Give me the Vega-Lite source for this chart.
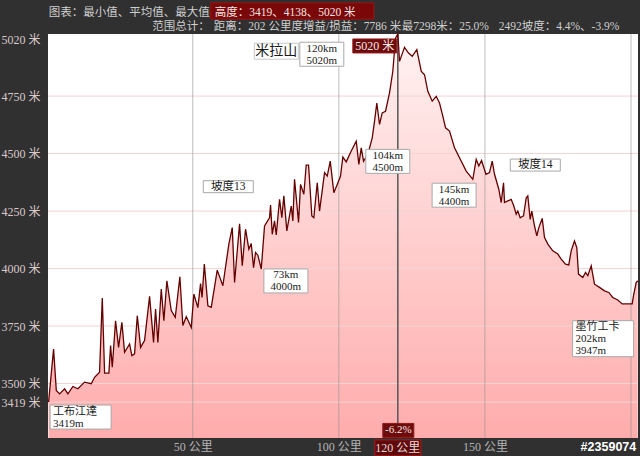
{
  "$schema": "https://vega.github.io/schema/vega-lite/v6.json",
  "autosize": {"type": "none"},
  "padding": {"left": 48, "top": 34, "right": 2, "bottom": 18},
  "width": 590,
  "height": 404,
  "background": "#303030",
  "config": {"view": {"stroke": null, "fill": "white"}},
  "datasets": {
    "profile": [
      {"km":0.65,"m":3419},{"km":2.36,"m":3650},{"km":3.29,"m":3470},{"km":4.41,"m":3455},{"km":6.13,"m":3477},
      {"km":7.26,"m":3455},{"km":8.97,"m":3487},{"km":10.68,"m":3477},{"km":12.97,"m":3506},{"km":15.26,"m":3499},
      {"km":16.39,"m":3527},{"km":18.10,"m":3549},{"km":19.03,"m":3872},{"km":19.82,"m":3545},{"km":21.29,"m":3545},
      {"km":21.87,"m":3665},{"km":22.45,"m":3571},{"km":23.58,"m":3773},{"km":24.61,"m":3657},{"km":25.74,"m":3766},
      {"km":26.66,"m":3636},{"km":28.37,"m":3672},{"km":29.16,"m":3621},{"km":30.08,"m":3629},{"km":31.01,"m":3795},
      {"km":32.14,"m":3657},{"km":33.50,"m":3687},{"km":35.22,"m":3879},{"km":36.58,"m":3679},{"km":37.27,"m":3824},
      {"km":38.06,"m":3679},{"km":39.22,"m":3911},{"km":40.11,"m":3773},{"km":41.14,"m":3947},{"km":42.64,"m":3817},
      {"km":44.01,"m":3788},{"km":45.59,"m":3964},{"km":46.61,"m":3752},{"km":47.78,"m":3791},{"km":49.49,"m":3744},
      {"km":50.38,"m":3889},{"km":51.75,"m":3830},{"km":52.67,"m":3935},{"km":53.18,"m":3874},{"km":53.96,"m":4019},
      {"km":55.17,"m":3838},{"km":56.33,"m":3831},{"km":58.38,"m":3993},{"km":60.30,"m":3925},{"km":62.35,"m":4106},
      {"km":63.52,"m":4178},{"km":64.31,"m":3939},{"km":66.02,"m":4195},{"km":66.94,"m":4012},{"km":68.07,"m":4171},
      {"km":69.20,"m":4084},{"km":70.02,"m":4109},{"km":70.81,"m":4004},{"km":71.49,"m":4070},{"km":72.28,"m":4058},
      {"km":73.44,"m":3998},{"km":74.57,"m":4185},{"km":76.28,"m":4221},{"km":76.63,"m":4276},{"km":77.21,"m":4149},
      {"km":77.99,"m":4207},{"km":78.58,"m":4146},{"km":79.71,"m":4301},{"km":80.49,"m":4221},{"km":81.18,"m":4316},
      {"km":82.20,"m":4164},{"km":83.71,"m":4272},{"km":84.26,"m":4207},{"km":84.84,"m":4388},{"km":86.21,"m":4200},
      {"km":86.89,"m":4366},{"km":88.02,"m":4323},{"km":88.84,"m":4450},{"km":89.63,"m":4450},{"km":90.76,"m":4229},
      {"km":91.44,"m":4221},{"km":92.61,"m":4373},{"km":93.39,"m":4250},{"km":95.11,"m":4417},{"km":96.03,"m":4402},
      {"km":97.06,"m":4467},{"km":98.29,"m":4330},{"km":99.45,"m":4366},{"km":100.58,"m":4402},{"km":101.37,"m":4485},
      {"km":102.53,"m":4464},{"km":104.24,"m":4511},{"km":105.96,"m":4554},{"km":106.85,"m":4453},{"km":107.67,"m":4525},
      {"km":108.45,"m":4467},{"km":109.92,"m":4496},{"km":111.43,"m":4568},{"km":112.22,"m":4641},{"km":113.00,"m":4720},
      {"km":113.93,"m":4627},{"km":114.85,"m":4677},{"km":115.98,"m":4684},{"km":117.35,"m":4764},{"km":118.48,"m":4858},
      {"km":119.40,"m":5002},{"km":120.19,"m":5020},{"km":120.77,"m":4901},{"km":122.48,"m":4962},{"km":123.85,"m":4937},
      {"km":125.12,"m":4923},{"km":126.69,"m":4952},{"km":128.20,"m":4858},{"km":129.33,"m":4843},{"km":130.46,"m":4771},
      {"km":131.96,"m":4728},{"km":133.33,"m":4749},{"km":134.46,"m":4720},{"km":135.59,"m":4663},{"km":136.52,"m":4612},
      {"km":137.89,"m":4598},{"km":139.60,"m":4525},{"km":141.31,"m":4482},{"km":143.60,"m":4424},{"km":145.86,"m":4388},
      {"km":147.02,"m":4475},{"km":147.91,"m":4446},{"km":148.84,"m":4470},{"km":150.38,"m":4410},{"km":151.57,"m":4417},
      {"km":152.50,"m":4467},{"km":153.29,"m":4410},{"km":154.76,"m":4345},{"km":155.58,"m":4287},{"km":156.37,"m":4373},
      {"km":156.71,"m":4287},{"km":157.84,"m":4294},{"km":159.00,"m":4301},{"km":159.89,"m":4272},{"km":160.71,"m":4236},
      {"km":161.26,"m":4250},{"km":162.08,"m":4221},{"km":163.21,"m":4229},{"km":164.14,"m":4308},{"km":164.68,"m":4316},
      {"km":165.50,"m":4214},{"km":166.05,"m":4250},{"km":166.98,"m":4185},{"km":167.76,"m":4142},{"km":168.45,"m":4178},
      {"km":169.61,"m":4218},{"km":170.40,"m":4135},{"km":171.53,"m":4106},{"km":173.24,"m":4077},{"km":174.95,"m":4063},
      {"km":176.11,"m":4041},{"km":177.58,"m":4019},{"km":178.71,"m":4016},{"km":179.53,"m":4077},{"km":180.66,"m":4120},
      {"km":181.45,"m":4091},{"km":182.03,"m":3976},{"km":183.50,"m":3961},{"km":184.43,"m":3983},{"km":185.22,"m":3969},
      {"km":186.38,"m":4012},{"km":187.51,"m":3932},{"km":189.22,"m":3918},{"km":190.93,"m":3903},{"km":192.40,"m":3896},
      {"km":193.77,"m":3874},{"km":195.48,"m":3863},{"km":196.99,"m":3846},{"km":198.36,"m":3846},{"km":200.41,"m":3846},
      {"km":200.86,"m":3882},{"km":201.78,"m":3939},{"km":202.3,"m":3947}
    ],
    "notes": [
      {"kind":"km","text":"120km\n5020m","km":94.17,"m":4932},
      {"kind":"km","text":"104km\n4500m","km":116.76,"m":4466},
      {"kind":"km","text":"73km\n4000m","km":81.88,"m":3946},
      {"kind":"km","text":"145km\n4400m","km":139.46,"m":4319},
      {"kind":"slope","text":"坡度13","km":62.16,"m":4356},
      {"kind":"slope","text":"坡度14","km":167.25,"m":4450},
      {"kind":"pass","text":"米拉山","km":78.6,"m":4945},
      {"kind":"place3","text":"墨竹工卡\n202km\n3947m","km":190.29,"m":3695},
      {"kind":"place2","text":"工布江達\n3419m","km":11.44,"m":3354}
    ],
    "hgrid": [{"v":3419},{"v":3500},{"v":3750},{"v":4000},{"v":4250},{"v":4500},{"v":4750}],
    "vgrid": [{"v":50},{"v":100},{"v":150},{"v":200}],
    "headLabels": [
      {"text":"图表：最小值、平均值、最大值","km":55.83,"m":5112},
      {"text":"范围总计：","km":55.83,"m":5050}
    ],
    "headValues": [
      {"text":"距离：202 公里","km":57.2,"m":5050},
      {"text":"度增益/损益：7786 米","km":83.83,"m":5050},
      {"text":"最7298米：25.0%","km":121.5,"m":5050},
      {"text":"2492坡度：4.4%、-3.9%","km":154.7,"m":5050}
    ]
  },
  "layer": [
    {
      "data": {"name": "profile"},
      "mark": {"type": "area", "fill": {"gradient": "linear", "x1": 0, "y1": 0, "x2": 0, "y2": 1, "stops": [{"offset": 0, "color": "#fff2f2"}, {"offset": 1, "color": "#ffacac"}]}},
      "encoding": {
        "x": {"field": "km", "type": "quantitative", "scale": {"domain": [0.45, 202.4], "nice": false, "zero": false},
          "axis": {"values": [50, 100, 150], "labelExpr": "datum.value + ' 公里'", "grid": false, "ticks": false, "domain": false, "title": null,
            "labelColor": "#b4b4b4", "labelFont": "Liberation Serif, Noto Sans CJK SC", "labelFontSize": 12, "labelPadding": 3, "labelFlush": false}},
        "y": {"field": "m", "type": "quantitative", "scale": {"domain": [3263, 5020], "nice": false, "zero": false},
          "axis": {"values": [3419, 3500, 3750, 4000, 4250, 4500, 4750, 5020], "labelExpr": "datum.value + ' 米'", "grid": false, "ticks": false, "domain": false, "title": null,
            "labelColor": "#d8c8c8", "labelFont": "Liberation Serif, Noto Sans CJK SC", "labelFontSize": 12, "labelPadding": 8, "labelOverlap": false, "labelFlush": false,
            "labelBaseline": {"condition": {"test": "datum.value == 5020", "value": "top"}, "value": "middle"}}},
        "y2": {"datum": 3263}
      }
    },
    {
      "data": {"name": "hgrid"},
      "mark": {"type": "rule", "color": "#f2d4d4", "strokeWidth": 1},
      "encoding": {"y": {"field": "v", "type": "quantitative"}}
    },
    {
      "data": {"name": "vgrid"},
      "mark": {"type": "rule", "color": "#8f8f8f", "opacity": 0.6, "strokeWidth": 1},
      "encoding": {"x": {"field": "v", "type": "quantitative"}}
    },
    {
      "data": {"values": [{}]},
      "mark": {"type": "rule", "color": "#555555", "strokeWidth": 1.5},
      "encoding": {"x": {"datum": 120.19, "type": "quantitative"}}
    },
    {
      "data": {"name": "profile"},
      "mark": {"type": "line", "color": "#640000", "strokeWidth": 1.3},
      "encoding": {"x": {"field": "km", "type": "quantitative"}, "y": {"field": "m", "type": "quantitative"}}
    },
    {
      "data": {"name": "notes"},
      "transform": [{"filter": "datum.kind == 'km'"}],
      "mark": {"type": "rect", "fill": "white", "stroke": "#a8a8a8", "strokeWidth": 1, "xOffset": -22, "x2Offset": 22, "yOffset": -12, "y2Offset": 12},
      "encoding": {"x": {"field": "km", "type": "quantitative"}, "x2": {"field": "km"}, "y": {"field": "m", "type": "quantitative"}, "y2": {"field": "m"}}
    },
    {
      "data": {"name": "notes"},
      "transform": [{"filter": "datum.kind == 'slope'"}],
      "mark": {"type": "rect", "fill": "white", "stroke": "#a8a8a8", "strokeWidth": 1, "xOffset": -25, "x2Offset": 25, "yOffset": -6, "y2Offset": 6},
      "encoding": {"x": {"field": "km", "type": "quantitative"}, "x2": {"field": "km"}, "y": {"field": "m", "type": "quantitative"}, "y2": {"field": "m"}}
    },
    {
      "data": {"name": "notes"},
      "transform": [{"filter": "datum.kind == 'pass'"}],
      "mark": {"type": "rect", "fill": "white", "stroke": "#c8c8c8", "strokeWidth": 1, "xOffset": -22, "x2Offset": 22, "yOffset": -8, "y2Offset": 8},
      "encoding": {"x": {"field": "km", "type": "quantitative"}, "x2": {"field": "km"}, "y": {"field": "m", "type": "quantitative"}, "y2": {"field": "m"}}
    },
    {
      "data": {"name": "notes"},
      "transform": [{"filter": "datum.kind == 'place3'"}],
      "mark": {"type": "rect", "fill": "white", "stroke": "#a8a8a8", "strokeWidth": 1, "xOffset": -30, "x2Offset": 31, "yOffset": -18, "y2Offset": 18},
      "encoding": {"x": {"field": "km", "type": "quantitative"}, "x2": {"field": "km"}, "y": {"field": "m", "type": "quantitative"}, "y2": {"field": "m"}}
    },
    {
      "data": {"name": "notes"},
      "transform": [{"filter": "datum.kind == 'place2'"}],
      "mark": {"type": "rect", "fill": "white", "stroke": "#a8a8a8", "strokeWidth": 1, "xOffset": -30, "x2Offset": 31, "yOffset": -12, "y2Offset": 12},
      "encoding": {"x": {"field": "km", "type": "quantitative"}, "x2": {"field": "km"}, "y": {"field": "m", "type": "quantitative"}, "y2": {"field": "m"}}
    },
    {
      "data": {"name": "notes"},
      "transform": [{"filter": "datum.kind == 'km'"}],
      "mark": {"type": "text", "lineBreak": "\n", "lineHeight": 12, "align": "center", "baseline": "middle", "yOffset": -5.5, "font": "Liberation Serif, Noto Sans CJK SC", "fontSize": 11, "color": "#1a1a1a"},
      "encoding": {"x": {"field": "km", "type": "quantitative"}, "y": {"field": "m", "type": "quantitative"}, "text": {"field": "text"}}
    },
    {
      "data": {"name": "notes"},
      "transform": [{"filter": "datum.kind == 'slope'"}],
      "mark": {"type": "text", "align": "center", "baseline": "middle", "font": "Liberation Serif, Noto Sans CJK SC", "fontSize": 11.5, "color": "#1a1a1a"},
      "encoding": {"x": {"field": "km", "type": "quantitative"}, "y": {"field": "m", "type": "quantitative"}, "text": {"field": "text"}}
    },
    {
      "data": {"name": "notes"},
      "transform": [{"filter": "datum.kind == 'pass'"}],
      "mark": {"type": "text", "align": "center", "baseline": "middle", "font": "Noto Sans CJK SC", "fontSize": 14, "color": "#1a1a1a"},
      "encoding": {"x": {"field": "km", "type": "quantitative"}, "y": {"field": "m", "type": "quantitative"}, "text": {"field": "text"}}
    },
    {
      "data": {"name": "notes"},
      "transform": [{"filter": "datum.kind == 'place3'"}],
      "mark": {"type": "text", "lineBreak": "\n", "lineHeight": 12, "align": "left", "baseline": "middle", "xOffset": -27, "yOffset": -11.5, "font": "Liberation Serif, Noto Sans CJK SC", "fontSize": 11, "color": "#1a1a1a"},
      "encoding": {"x": {"field": "km", "type": "quantitative"}, "y": {"field": "m", "type": "quantitative"}, "text": {"field": "text"}}
    },
    {
      "data": {"name": "notes"},
      "transform": [{"filter": "datum.kind == 'place2'"}],
      "mark": {"type": "text", "lineBreak": "\n", "lineHeight": 12, "align": "left", "baseline": "middle", "xOffset": -27, "yOffset": -5.5, "font": "Liberation Serif, Noto Sans CJK SC", "fontSize": 11, "color": "#1a1a1a"},
      "encoding": {"x": {"field": "km", "type": "quantitative"}, "y": {"field": "m", "type": "quantitative"}, "text": {"field": "text"}}
    },
    {
      "data": {"values": [{}]},
      "mark": {"type": "rect", "fill": "#6e0b0b", "stroke": "#9a1a1a", "strokeWidth": 1, "xOffset": -45, "x2Offset": -1, "yOffset": -7, "y2Offset": 7},
      "encoding": {"x": {"datum": 120.19, "type": "quantitative"}, "x2": {"datum": 120.19}, "y": {"datum": 4968, "type": "quantitative"}, "y2": {"datum": 4968}}
    },
    {
      "data": {"values": [{}]},
      "mark": {"type": "text", "text": "5020 米", "xOffset": -23, "align": "center", "baseline": "middle", "font": "Liberation Serif, Noto Sans CJK SC", "fontSize": 12, "color": "#f4e6e6"},
      "encoding": {"x": {"datum": 120.19, "type": "quantitative"}, "y": {"datum": 4968, "type": "quantitative"}}
    },
    {
      "data": {"values": [{}]},
      "mark": {"type": "rect", "fill": "#6e0b0b", "stroke": "#8a1a1a", "strokeWidth": 1, "xOffset": -15, "x2Offset": 16, "yOffset": -7, "y2Offset": 7},
      "encoding": {"x": {"datum": 120.19, "type": "quantitative"}, "x2": {"datum": 120.19}, "y": {"datum": 3296, "type": "quantitative"}, "y2": {"datum": 3296}}
    },
    {
      "data": {"values": [{}]},
      "mark": {"type": "text", "text": "-6.2%", "xOffset": 0.5, "align": "center", "baseline": "middle", "font": "Liberation Serif", "fontSize": 11, "color": "#f4e6e6"},
      "encoding": {"x": {"datum": 120.19, "type": "quantitative"}, "y": {"datum": 3296, "type": "quantitative"}}
    },
    {
      "data": {"values": [{}]},
      "mark": {"type": "rect", "fill": "#5e0a0a", "stroke": "#b01818", "strokeWidth": 1, "xOffset": -23, "x2Offset": 23, "yOffset": -8, "y2Offset": 8},
      "encoding": {"x": {"datum": 120.19, "type": "quantitative"}, "x2": {"datum": 120.19}, "y": {"datum": 3220, "type": "quantitative"}, "y2": {"datum": 3220}}
    },
    {
      "data": {"values": [{}]},
      "mark": {"type": "text", "text": "120 公里", "align": "center", "baseline": "middle", "font": "Liberation Serif, Noto Sans CJK SC", "fontSize": 12, "color": "#e8dada"},
      "encoding": {"x": {"datum": 120.19, "type": "quantitative"}, "y": {"datum": 3220, "type": "quantitative"}}
    },
    {
      "data": {"values": [{}]},
      "mark": {"type": "text", "text": "#2359074", "align": "right", "baseline": "middle", "font": "Liberation Sans", "fontWeight": "bold", "fontSize": 12.5, "color": "#ffffff"},
      "encoding": {"x": {"datum": 201.8, "type": "quantitative"}, "y": {"datum": 3226, "type": "quantitative"}}
    },
    {
      "data": {"values": [{}]},
      "mark": {"type": "rect", "fill": "#7a0808", "stroke": "#a01010", "strokeWidth": 1},
      "encoding": {"x": {"datum": 56.17, "type": "quantitative"}, "x2": {"datum": 111.96}, "y": {"datum": 5155, "type": "quantitative"}, "y2": {"datum": 5085}}
    },
    {
      "data": {"values": [{}]},
      "mark": {"type": "text", "text": "高度：3419、4138、5020 米", "align": "left", "baseline": "middle", "font": "Liberation Serif, Noto Sans CJK SC", "fontSize": 11.5, "color": "#f2e4e4"},
      "encoding": {"x": {"datum": 57.5, "type": "quantitative"}, "y": {"datum": 5112, "type": "quantitative"}}
    },
    {
      "data": {"name": "headLabels"},
      "mark": {"type": "text", "align": "right", "baseline": "middle", "font": "Liberation Serif, Noto Sans CJK SC", "fontSize": 11.5, "color": "#cfcfcf"},
      "encoding": {"x": {"field": "km", "type": "quantitative"}, "y": {"field": "m", "type": "quantitative"}, "text": {"field": "text"}}
    },
    {
      "data": {"name": "headValues"},
      "mark": {"type": "text", "align": "left", "baseline": "middle", "font": "Liberation Serif, Noto Sans CJK SC", "fontSize": 11.5, "color": "#cfcfcf"},
      "encoding": {"x": {"field": "km", "type": "quantitative"}, "y": {"field": "m", "type": "quantitative"}, "text": {"field": "text"}}
    }
  ]
}
